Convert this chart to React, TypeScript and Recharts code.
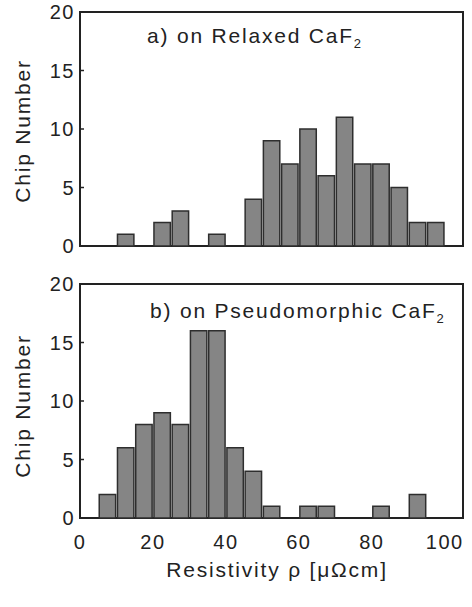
import { BarChart, Bar, XAxis, YAxis, ReferenceArea } from "recharts";

// bin centres of the 5 µΩcm wide resistivity bins
const binCenters = [
  2.5, 7.5, 12.5, 17.5, 22.5, 27.5, 32.5, 37.5, 42.5, 47.5,
  52.5, 57.5, 62.5, 67.5, 72.5, 77.5, 82.5, 87.5, 92.5, 97.5,
];
const relaxed = [0, 0, 1, 0, 2, 3, 0, 1, 0, 4, 9, 7, 10, 6, 11, 7, 7, 5, 2, 2];
const pseudomorphic = [0, 2, 6, 8, 9, 8, 16, 16, 6, 4, 1, 0, 1, 1, 0, 0, 1, 0, 2, 0];
const xTicks = [0, 20, 40, 60, 80, 100];
const yTicks = [0, 5, 10, 15, 20];

const FONT = "'Liberation Sans', Arial, Helvetica, sans-serif";
const INK = "#222";
const W = 472;
const LEFT = 80;
const RIGHT = 9;
const X_MAX = 105;
const BAR_W = ((W - LEFT - RIGHT) / X_MAX) * 5;

const relaxedData = binCenters.map((x, i) => ({ x, n: relaxed[i] }));
const pseudoData = binCenters.map((x, i) => ({ x, n: pseudomorphic[i] }));

const YTick = (props: any) => {
  const { x, y, payload } = props;
  const v = payload.value;
  return (
    <g>
      {v > 0 && v < 20 && <line x1={x + 5} x2={x + 10} y1={y} y2={y} stroke={INK} strokeWidth={1.5} />}
      <text x={x + 1} y={y} dy="0.36em" textAnchor="end" fontSize={20} fill={INK} fontFamily={FONT} letterSpacing={1.5}>
        {v}
      </text>
    </g>
  );
};

const XTick = (props: any) => {
  const { x, y, payload } = props;
  return (
    <text x={x} y={y} dy="0.71em" textAnchor="middle" fontSize={20} fill={INK} fontFamily={FONT} letterSpacing={1.5}>
      {payload.value}
    </text>
  );
};

function Panel({ data, height, top, showX }: { data: { x: number; n: number }[]; height: number; top: number; showX: boolean }) {
  return (
    <BarChart
      width={W}
      height={height}
      data={data}
      margin={{ top, right: RIGHT, bottom: showX ? 0 : height - top - 234, left: 20 }}
    >
      <XAxis
        dataKey="x"
        type="number"
        domain={[0, X_MAX]}
        ticks={xTicks}
        hide={!showX}
        height={showX ? height - top - 234 : 0}
        axisLine={false}
        tickLine={false}
        tickSize={0}
        tickMargin={17}
        tick={<XTick />}
        interval={0}
      />
      <YAxis
        type="number"
        domain={[0, 20]}
        ticks={yTicks}
        width={60}
        axisLine={false}
        tickLine={false}
        tickSize={0}
        tickMargin={6}
        tick={<YTick />}
        interval={0}
      />
      <Bar dataKey="n" barSize={BAR_W} fill="#858585" stroke="#2e2e2e" strokeWidth={1.5} isAnimationActive={false} />
      <ReferenceArea x1={0} x2={X_MAX} y1={0} y2={20} fill="none" stroke={INK} strokeWidth={2} ifOverflow="visible" />
    </BarChart>
  );
}

export default function App() {
  const txt = { fontFamily: FONT, fill: INK, letterSpacing: 1.8 } as const;
  return (
    <div style={{ position: "absolute", left: 0, top: 0, width: W, height: 607, background: "#fff" }}>
      <div style={{ position: "absolute", left: 0, top: 0 }}>
        <Panel data={relaxedData} height={262} top={12} showX={false} />
      </div>
      <div style={{ position: "absolute", left: 0, top: 270 }}>
        <Panel data={pseudoData} height={337} top={14} showX={true} />
      </div>
      <svg width={W} height={607} style={{ position: "absolute", left: 0, top: 0, pointerEvents: "none" }}>
        <text x={147} y={43} fontSize={21} {...txt}>
          a) on Relaxed CaF<tspan dy={5} fontSize={13}>2</tspan>
        </text>
        <text x={150} y={318} fontSize={21} {...txt}>
          b) on Pseudomorphic CaF<tspan dy={5} fontSize={13}>2</tspan>
        </text>
        <text x={277} y={577} fontSize={21} textAnchor="middle" {...txt}>
          Resistivity ρ [μΩcm]
        </text>
        <text transform="translate(30,131) rotate(-90)" fontSize={21} textAnchor="middle" {...txt}>
          Chip Number
        </text>
        <text transform="translate(30,406) rotate(-90)" fontSize={21} textAnchor="middle" {...txt}>
          Chip Number
        </text>
      </svg>
    </div>
  );
}
